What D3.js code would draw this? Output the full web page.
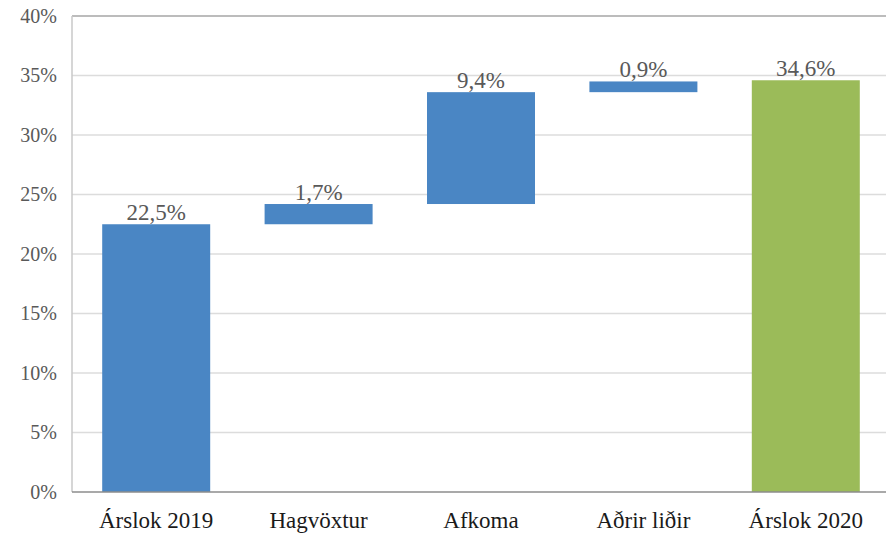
<!DOCTYPE html>
<html><head><meta charset="utf-8">
<script src="https://cdn.jsdelivr.net/npm/d3@7"></script>
<style>body{margin:0;background:#fff;} svg{display:block;}</style>
</head><body>
<svg id="c" width="886" height="534"></svg>
<script>
const categories = ["Árslok 2019", "Hagvöxtur", "Afkoma", "Aðrir liðir", "Árslok 2020"];
const values = [22.5, 1.7, 9.4, 0.9, 34.6];
const labels = ["22,5%", "1,7%", "9,4%", "0,9%", "34,6%"];
const isTotal = [true, false, false, false, true];
const yTicks = [0, 5, 10, 15, 20, 25, 30, 35, 40];

(function () {
const FONT = "'Liberation Serif', 'Times New Roman', serif";
const svg = d3.select("#c");
const mLeft = 75, mRight = 887, mTop = 16, mBottom = 492;
const x = d3.scaleBand().domain(categories).range([mLeft, mRight]).paddingInner(0.335).paddingOuter(0.1675);
const y = d3.scaleLinear().domain([0, 40]).range([mBottom, mTop]);

let run = 0;
const bars = categories.map((c, i) => {
  let y0, y1;
  if (isTotal[i]) { y0 = 0; y1 = values[i]; run = values[i]; }
  else { y0 = run; y1 = run + values[i]; run = y1; }
  return {c, y0, y1, label: labels[i], total: isTotal[i], i};
});

svg.append("g").selectAll("line").data(yTicks.filter(t => t > 0 && t < 40)).join("line")
  .attr("x1", 72).attr("x2", 886).attr("y1", d => y(d)).attr("y2", d => y(d))
  .attr("stroke", "#dcdcdc").attr("stroke-width", 1.5);
svg.append("line").attr("x1", 72).attr("x2", 886).attr("y1", y(40)).attr("y2", y(40))
  .attr("stroke", "#a6a6a6").attr("stroke-width", 1.5);
svg.append("line").attr("x1", 72).attr("x2", 72).attr("y1", y(40)).attr("y2", y(0))
  .attr("stroke", "#c8c8c8").attr("stroke-width", 1.5);

svg.append("g").selectAll("rect").data(bars).join("rect")
  .attr("x", d => x(d.c)).attr("width", x.bandwidth())
  .attr("y", d => y(d.y1)).attr("height", d => y(d.y0) - y(d.y1))
  .attr("fill", (d, i) => i === 4 ? "#9bbb59" : "#4a86c4");

svg.append("line").attr("x1", 72).attr("x2", 886).attr("y1", y(0)).attr("y2", y(0))
  .attr("stroke", "#8c8c8c").attr("stroke-width", 1.5);

const yAxis = d3.axisLeft(y).tickValues(yTicks).tickFormat(d => d + "%").tickSize(0).tickPadding(0);
const ya = svg.append("g").attr("transform", "translate(57,0)").call(yAxis);
ya.attr("font-family", null).attr("font-size", null);
ya.select(".domain").remove();
ya.selectAll("text").style("font-family", FONT)
  .style("font-size", "20px").attr("fill", "#595959");

const xAxis = d3.axisBottom(x).tickSize(0).tickPadding(0);
const xa = svg.append("g").attr("transform", "translate(0," + (mBottom + 20) + ")").call(xAxis);
xa.attr("font-family", null).attr("font-size", null);
xa.select(".domain").remove();
xa.selectAll("text").style("font-family", FONT)
  .style("font-size", "23px").attr("fill", "#1a1a1a").attr("dy", "0.71em");

svg.append("g").selectAll("text").data(bars).join("text")
  .attr("x", d => x(d.c) + x.bandwidth() / 2).attr("y", d => y(d.y1) - 4)
  .attr("text-anchor", "middle")
  .style("font-family", FONT)
  .style("font-size", "23px").attr("fill", "#595959").text(d => d.label);
})();
</script>
</body></html>
